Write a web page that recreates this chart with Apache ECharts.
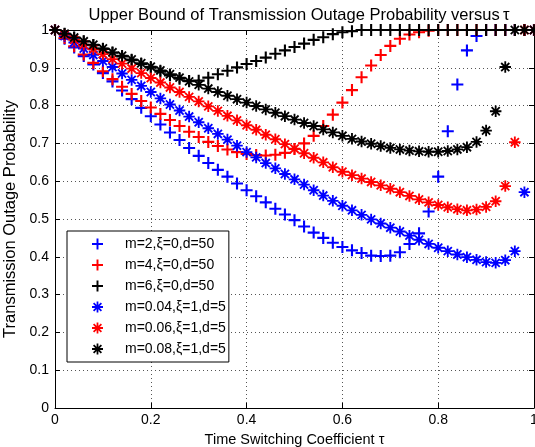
<!DOCTYPE html>
<html>
<head>
<meta charset="utf-8">
<script src="https://cdn.jsdelivr.net/npm/echarts@6/dist/echarts.min.js"></script>
<style>
  html, body { margin: 0; padding: 0; background: #fff; }
  #chart { width: 535px; height: 447px; }
</style>
</head>
<body>
<div id="chart"></div>
<script>
// time switching coefficient tau (x values)
var tau = [0, 0.02, 0.04, 0.06, 0.08, 0.1, 0.12, 0.14, 0.16, 0.18,
  0.2, 0.22, 0.24, 0.26, 0.28, 0.3, 0.32, 0.34, 0.36, 0.38,
  0.4, 0.42, 0.44, 0.46, 0.48, 0.5, 0.52, 0.54, 0.56, 0.58,
  0.6, 0.62, 0.64, 0.66, 0.68, 0.7, 0.72, 0.74, 0.76, 0.78,
  0.8, 0.82, 0.84, 0.86, 0.88, 0.9, 0.92, 0.94, 0.96, 0.98, 1];

// m=2, xi=0, d=50
var m2 = [1, 0.977, 0.954, 0.931, 0.909, 0.886, 0.864, 0.840, 0.817, 0.794,
  0.772, 0.750, 0.729, 0.709, 0.688, 0.667, 0.648, 0.630, 0.612, 0.594,
  0.576, 0.560, 0.544, 0.527, 0.512, 0.497, 0.480, 0.464, 0.450, 0.437,
  0.426, 0.417, 0.410, 0.403, 0.402, 0.403, 0.412, 0.434, 0.462, 0.520,
  0.612, 0.732, 0.856, 0.946, 0.984, 1, 1, 1, 1, 1, 1];
// m=4, xi=0, d=50
var m4 = [1, 0.979, 0.957, 0.935, 0.913, 0.891, 0.870, 0.850, 0.831, 0.812,
  0.795, 0.778, 0.762, 0.746, 0.731, 0.717, 0.704, 0.693, 0.684, 0.677,
  0.672, 0.669, 0.668, 0.670, 0.675, 0.685, 0.700, 0.720, 0.746, 0.776,
  0.808, 0.841, 0.875, 0.906, 0.934, 0.958, 0.977, 0.988, 0.994, 0.998,
  1, 1, 1, 1, 1, 1, 1, 1, 1, 1, 1];
// m=6, xi=0, d=50
var m6 = [1, 0.99, 0.98, 0.97, 0.96, 0.95, 0.94, 0.93, 0.92, 0.91,
  0.90, 0.89, 0.88, 0.871, 0.865, 0.866, 0.874, 0.883, 0.892, 0.901,
  0.910, 0.918, 0.927, 0.937, 0.946, 0.955, 0.964, 0.974, 0.981, 0.989,
  0.994, 0.997, 1, 1, 1, 1, 1, 1, 1, 1,
  1, 1, 1, 1, 1, 1, 1, 1, 1, 1, 1];
// m=0.04, xi=1, d=5
var m004 = [1, 0.984, 0.967, 0.951, 0.934, 0.918, 0.902, 0.885, 0.868, 0.852,
  0.836, 0.819, 0.803, 0.787, 0.771, 0.756, 0.740, 0.725, 0.710, 0.694,
  0.677, 0.663, 0.648, 0.634, 0.619, 0.605, 0.591, 0.576, 0.562, 0.548,
  0.535, 0.523, 0.511, 0.499, 0.488, 0.477, 0.467, 0.456, 0.445, 0.434,
  0.424, 0.415, 0.406, 0.399, 0.392, 0.386, 0.384, 0.391, 0.415, 0.571, 1];
// m=0.06, xi=1, d=5
var m006 = [1, 0.987, 0.974, 0.961, 0.949, 0.936, 0.923, 0.911, 0.898, 0.886,
  0.873, 0.861, 0.848, 0.836, 0.823, 0.811, 0.798, 0.786, 0.773, 0.761,
  0.748, 0.736, 0.723, 0.711, 0.698, 0.686, 0.674, 0.662, 0.650, 0.637,
  0.625, 0.616, 0.607, 0.598, 0.589, 0.580, 0.571, 0.561, 0.552, 0.544,
  0.537, 0.531, 0.526, 0.523, 0.525, 0.532, 0.547, 0.587, 0.703, 1, 1];
// m=0.08, xi=1, d=5
var m008 = [1, 0.99, 0.98, 0.97, 0.961, 0.951, 0.941, 0.932, 0.922, 0.912,
  0.903, 0.893, 0.883, 0.874, 0.864, 0.855, 0.845, 0.836, 0.826, 0.817,
  0.808, 0.799, 0.790, 0.781, 0.772, 0.763, 0.754, 0.746, 0.737, 0.729,
  0.720, 0.712, 0.705, 0.699, 0.693, 0.688, 0.684, 0.681, 0.679, 0.678,
  0.678, 0.680, 0.684, 0.690, 0.704, 0.734, 0.785, 0.902, 1, 1, 1];

var names = ['m=2,ξ=0,d=50', 'm=4,ξ=0,d=50', 'm=6,ξ=0,d=50',
  'm=0.04,ξ=1,d=5', 'm=0.06,ξ=1,d=5', 'm=0.08,ξ=1,d=5'];
var values = [m2, m4, m6, m004, m006, m008];
var colors = ['#0000ff', '#ff0000', '#000000', '#0000ff', '#ff0000', '#000000'];
var markers = ['plus', 'plus', 'plus', 'star', 'star', 'star'];

// marker shapes drawn as filled bars in a 20x20 box
function bar(angle, w) {
  var c = Math.cos(angle), s = Math.sin(angle);
  var pts = [[-10, -w], [10, -w], [10, w], [-10, w]].map(function (p) {
    var x = 10 + p[0] * c - p[1] * s;
    var y = 10 + p[0] * s + p[1] * c;
    return x.toFixed(3) + ',' + y.toFixed(3);
  });
  return 'M' + pts.join('L') + 'Z';
}
var plusPath = 'path://' + bar(0, 1.75) + bar(Math.PI / 2, 1.75);
var starPath = 'path://' + bar(0, 1.6) + bar(Math.PI / 2, 1.6) +
  bar(Math.PI / 4, 1.6) + bar(-Math.PI / 4, 1.6);
var symbolOf = { plus: plusPath, star: starPath };

var font = 'Liberation Sans, Arial, Helvetica, sans-serif';

var chart = echarts.init(document.getElementById('chart'));

var series = names.map(function (n, i) {
  return {
    name: n,
    type: 'scatter',
    symbol: symbolOf[markers[i]],
    symbolSize: markers[i] === 'plus' ? 12 : 11.5,
    symbolKeepAspect: true,
    itemStyle: { color: colors[i], opacity: 1 },
    emphasis: { disabled: true },
    data: tau.map(function (t, k) { return [t, values[i][k]]; })
  };
});

var tickStyle = { show: true, inside: true, length: 5, lineStyle: { color: '#000', width: 1 } };
var gridLine = { show: true, lineStyle: { color: '#555', type: [1, 3], width: 1 } };

chart.setOption({
  animation: false,
  backgroundColor: '#fff',
  textStyle: { fontFamily: font },
  title: {
    text: 'Upper Bound of Transmission Outage Probability versus\u2009τ',
    left: 294,
    top: 2,
    textAlign: 'center',
    textStyle: { fontFamily: font, fontSize: 16.5, fontWeight: 'normal', color: '#000' }
  },
  grid: { left: 55, top: 30, right: 1, bottom: 39, outerBoundsMode: 'none' },
  legend: {
    orient: 'vertical',
    left: 67,
    top: 231,
    padding: [6, 3, 6, 25],
    itemWidth: 11,
    itemHeight: 11,
    itemGap: 7,
    backgroundColor: '#fff',
    borderColor: '#000',
    borderWidth: 1,
    borderRadius: 0,
    textStyle: { fontFamily: font, fontSize: 14, color: '#000', padding: [0, 0, 0, 17] },
    data: names.map(function (n, i) { return { name: n, icon: symbolOf[markers[i]] }; })
  },
  xAxis: [{
    type: 'value', min: 0, max: 1, interval: 0.2,
    name: 'Time Switching Coefficient τ',
    nameLocation: 'middle', nameGap: 24,
    nameTextStyle: { fontFamily: font, fontSize: 14.5, color: '#000' },
    axisLine: { show: true, onZero: false, lineStyle: { color: '#000', width: 1 } },
    axisTick: tickStyle,
    axisLabel: { color: '#000', fontSize: 14, margin: 5, fontFamily: font },
    splitLine: gridLine
  }, {
    type: 'value', min: 0, max: 1, interval: 0.2, position: 'top',
    axisLine: { show: true, onZero: false, lineStyle: { color: '#000', width: 1 } },
    axisTick: tickStyle,
    axisLabel: { show: false },
    splitLine: { show: false }
  }],
  yAxis: [{
    type: 'value', min: 0, max: 1, interval: 0.1,
    name: 'Transmission Outage Probability',
    nameLocation: 'middle', nameGap: 31,
    nameTextStyle: { fontFamily: font, fontSize: 16.5, color: '#000' },
    axisLine: { show: true, onZero: false, lineStyle: { color: '#000', width: 1 } },
    axisTick: tickStyle,
    axisLabel: { color: '#000', fontSize: 14, margin: 6, fontFamily: font },
    splitLine: gridLine
  }, {
    type: 'value', min: 0, max: 1, interval: 0.1, position: 'right',
    axisLine: { show: true, onZero: false, lineStyle: { color: '#000', width: 1 } },
    axisTick: tickStyle,
    axisLabel: { show: false },
    splitLine: { show: false }
  }],
  series: series
});
</script>
</body>
</html>
